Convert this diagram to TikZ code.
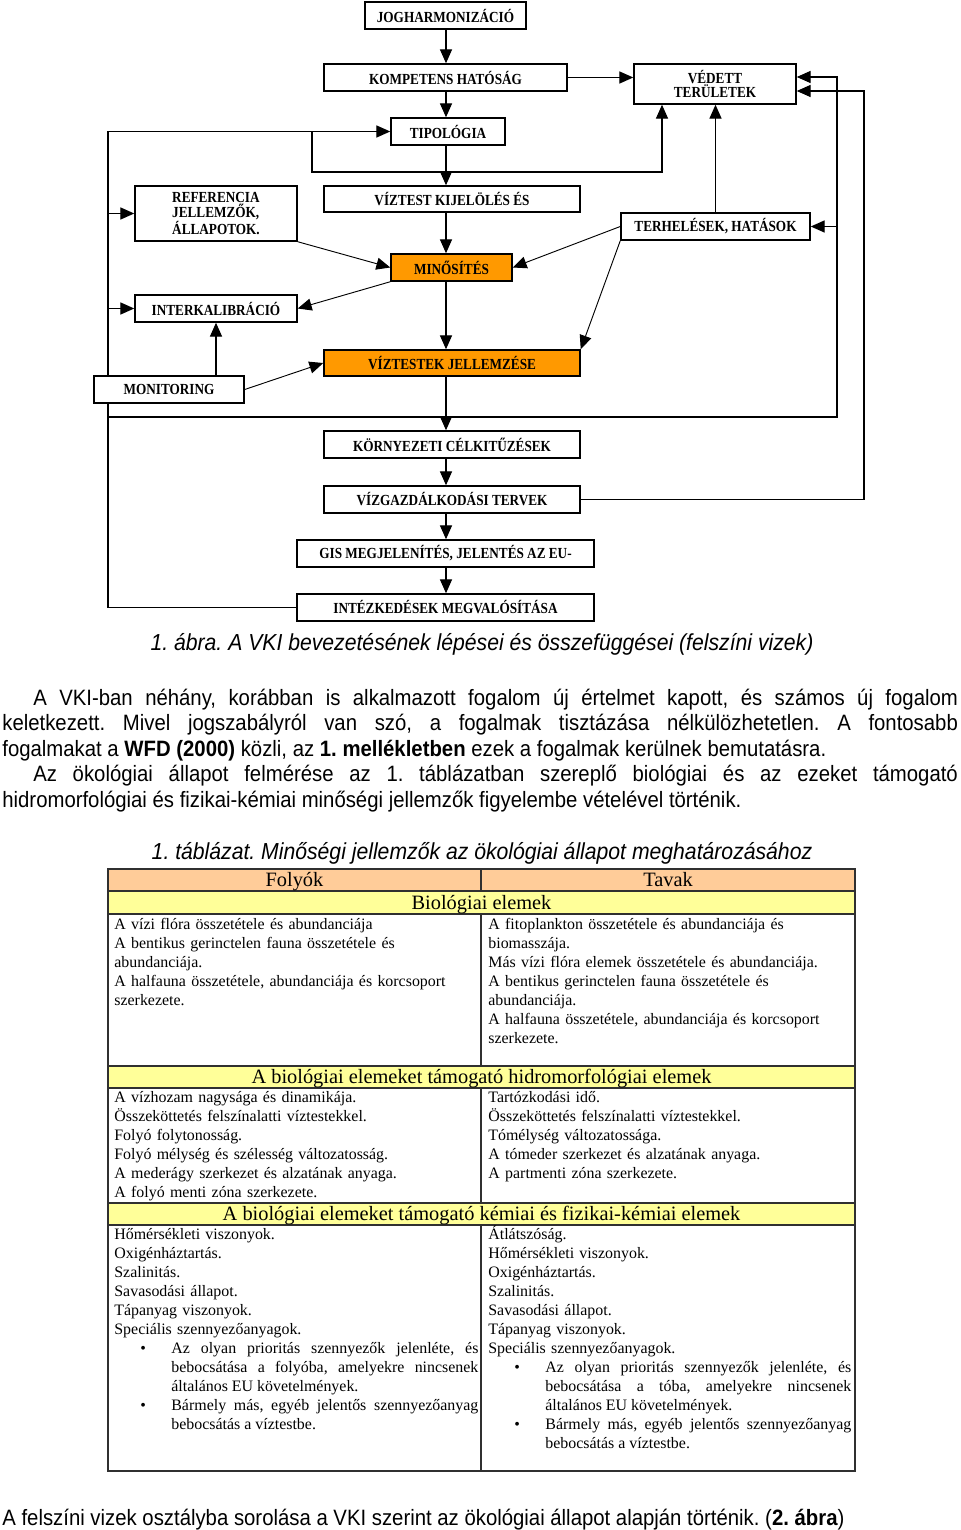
\documentclass[tikz,border=0pt]{standalone}
\usepackage{fontspec}
\setmainfont{Liberation Sans}[FakeStretch=0.915]
\newfontfamily\flowfont{Liberation Serif}[FakeStretch=0.86]
\newfontfamily\tabfont{Liberation Serif}
\usepackage{tikz}
\usetikzlibrary{arrows.meta,calc,backgrounds}
\definecolor{StepOrange}{HTML}{FF9900}
\definecolor{HeadPeach}{HTML}{FFCC99}
\definecolor{BandYellow}{HTML}{FFFF99}
\definecolor{RuleGray}{HTML}{303030}
\frenchspacing
\tikzset{
	flowbox/.style={draw=black, line width=0.8pt, fill=white, inner sep=0pt, align=center, font=\flowfont\bfseries\fontsize{8.3}{7.9}\selectfont},
	hotbox/.style={flowbox, fill=StepOrange},
	link/.style={line width=0.65pt, -{Triangle[length=7.5pt,width=6.5pt]}},
	slant/.style={line width=0.5pt, -{Triangle[length=7.5pt,width=6.5pt]}},
	tabrule/.style={draw=RuleGray, line width=0.6pt},
	celltext/.style={inner sep=0pt, anchor=base west, text width=196pt, align=left, font=\tabfont\fontsize{8.6}{10.26}\selectfont},
	bullettext/.style={celltext, text width=#1, align=justify},
	headtext/.style={inner sep=0pt, anchor=base, font=\tabfont\fontsize{11}{12}\selectfont},
	bodytext/.style={inner sep=0pt, anchor=base west, text width=516pt, align=justify, font=\fontsize{12}{13.8}\selectfont},
	captext/.style={inner sep=0pt, anchor=base, font=\itshape\fontsize{12.5}{13.8}\selectfont},
}
\newcommand{\vkibox}[6]{%
	\node[#2, minimum width=#4*0.54pt, minimum height=#5*0.54pt] (#1) at (#3) {#6};
}

\begin{document}
\begin{tikzpicture}[x=0.54pt,y=-0.54pt]
	\useasboundingbox (0,0) rectangle (960,1530);

	\vkibox{jogh}{flowbox}{445.5,15.5}{161}{27}{JOGHARMONIZÁCIÓ}
	\vkibox{komp}{flowbox}{445.5,77.5}{243}{27}{KOMPETENS HATÓSÁG}
	\vkibox{vedett}{flowbox}{715,84}{162}{40}{VÉDETT\\TERÜLETEK}
	\vkibox{tipo}{flowbox}{448,131.5}{114}{27}{TIPOLÓGIA}
	\vkibox{refer}{flowbox, align=left}{216,213.5}{162}{55}{REFERENCIA\\JELLEMZŐK,\\ÁLLAPOTOK.}
	\vkibox{kijel}{flowbox}{452,199}{256}{26}{VÍZTEST KIJELÖLÉS ÉS}
	\vkibox{terh}{flowbox}{715.5,226.5}{189}{27}{TERHELÉSEK, HATÁSOK}
	\vkibox{minos}{hotbox}{451.5,267.5}{121}{27}{MINŐSÍTÉS}
	\vkibox{interk}{flowbox}{216,308.5}{162}{27}{INTERKALIBRÁCIÓ}
	\vkibox{monit}{flowbox}{169,389.5}{150}{27}{MONITORING}
	\vkibox{jellem}{hotbox}{452,363}{256}{26}{VÍZTESTEK JELLEMZÉSE}
	\vkibox{celok}{flowbox}{452,444.5}{256}{27}{KÖRNYEZETI CÉLKITŰZÉSEK}
	\vkibox{tervek}{flowbox}{452,499.5}{256}{27}{VÍZGAZDÁLKODÁSI TERVEK}
	\vkibox{gisjel}{flowbox}{445.5,553.5}{297}{27}{GIS MEGJELENÍTÉS, JELENTÉS AZ EU-}
	\vkibox{intez}{flowbox}{445.5,607.5}{297}{27}{INTÉZKEDÉSEK MEGVALÓSÍTÁSA}

	\coordinate (spine) at (446,0);
	\coordinate (lbus) at (108,0);
	\coordinate (tknee) at (312,0);
	\coordinate (vfoot) at (662,172);
	\coordinate (rbus) at (837,417);
	\coordinate (obus) at (864,0);

	\begin{pgfonlayer}{background}
		\fill[white] (0,0) rectangle (960,1530);
		\foreach \from/\to in {jogh/komp,komp/tipo,tipo/kijel,kijel/minos,minos/jellem,jellem/celok,celok/tervek,tervek/gisjel,gisjel/intez} {
			\draw[link] (\from.south -| spine) -- (\to.north -| spine);
		}
		\draw[link] (komp.east) -- (komp.east -| vedett.west);
		\draw[link] (intez.west) -| (lbus |- tipo.west) -- (tipo.west);
		\draw[link] (lbus |- refer.west) -- (refer.west);
		\draw[link] (lbus |- interk.west) -- (interk.west);
		\draw[link] (tknee |- tipo.west) |- (vfoot) -- (vfoot |- vedett.south);
		\draw[link] (lbus |- rbus) -- (rbus) |- ($(vedett.east)+(0,-7)$);
		\draw[link] (rbus |- terh.east) -- (terh.east);
		\draw[link] (tervek.east) -- (tervek.east -| obus) |- ($(vedett.east)+(0,7)$);
		\draw[link] (terh.north) -- (terh.north |- vedett.south);
		\draw[link] (interk.south |- monit.north) -- (interk.south);
		\draw[slant] (refer.south east) -- (minos.west);
		\draw[slant] (minos.south west) -- (interk.east);
		\draw[slant] (monit.east) -- (jellem.west);
		\draw[slant] (terh.west) -- (minos.east);
		\draw[slant] (terh.south west) -- (jellem.north east);
	\end{pgfonlayer}

	\node[captext] (figcap) at (482,650) {1. ábra. A VKI bevezetésének lépései és összefüggései (felszíni vizek)};
	\node[bodytext] (para) at (2,705) {\hspace*{16.7pt}A VKI-ban néhány, korábban is alkalmazott fogalom új értelmet kapott, és számos új fogalom\linebreak keletkezett. Mivel jogszabályról van szó, a fogalmak tisztázása nélkülözhetetlen. A fontosabb\linebreak fogalmakat a \textbf{WFD (2000)} közli, az \textbf{1. mellékletben} ezek a fogalmak kerülnek bemutatásra.\par
		\hspace*{16.7pt}Az ökológiai állapot felmérése az 1. táblázatban szereplő biológiai és az ezeket támogató\linebreak hidromorfológiai és fizikai-kémiai minőségi jellemzők figyelembe vételével történik.};
	\node[captext] (tabcap) at (482,859) {1. táblázat. Minőségi jellemzők az ökológiai állapot meghatározásához};

	\fill[HeadPeach] (108,869) rectangle (855,891);
	\fill[BandYellow] (108,891) rectangle (855,914);
	\fill[BandYellow] (108,1066) rectangle (855,1088);
	\fill[BandYellow] (108,1203) rectangle (855,1225);
	\draw[tabrule] (108,869) rectangle (855,1471);
	\foreach \yy in {891,914,1066,1088,1203,1225} {
		\draw[tabrule] (108,\yy) -- (855,\yy);
	}
	\foreach \ya/\yb in {869/891,914/1066,1088/1203,1225/1471} {
		\draw[tabrule] (481,\ya) -- (481,\yb);
	}

	\node[headtext] (hdriver) at (294.5,886) {Folyók};
	\node[headtext] (hdlake) at (668,886) {Tavak};
	\node[headtext] (bandbio) at (481.5,909) {Biológiai elemek};
	\node[headtext] (bandhydro) at (481.5,1083) {A biológiai elemeket támogató hidromorfológiai elemek};
	\node[headtext] (bandchem) at (481.5,1220) {A biológiai elemeket támogató kémiai és fizikai-kémiai elemek};

	\node[celltext] (bioL) at (114,929) {A vízi flóra összetétele és abundanciája\\A bentikus gerinctelen fauna összetétele és\\abundanciája.\\A halfauna összetétele, abundanciája és korcsoport\\szerkezete.};
	\node[celltext] (bioR) at (488,929) {A fitoplankton összetétele és abundanciája és\\biomasszája.\\Más vízi flóra elemek összetétele és abundanciája.\\A bentikus gerinctelen fauna összetétele és\\abundanciája.\\A halfauna összetétele, abundanciája és korcsoport\\szerkezete.};
	\node[celltext] (hydroL) at (114,1102) {A vízhozam nagysága és dinamikája.\\Összeköttetés felszínalatti víztestekkel.\\Folyó folytonosság.\\Folyó mélység és szélesség változatosság.\\A mederágy szerkezet és alzatának anyaga.\\A folyó menti zóna szerkezete.};
	\node[celltext] (hydroR) at (488,1102) {Tartózkodási idő.\\Összeköttetés felszínalatti víztestekkel.\\Tómélység változatossága.\\A tómeder szerkezet és alzatának anyaga.\\A partmenti zóna szerkezete.};
	\node[celltext] (chemL) at (114,1239) {Hőmérsékleti viszonyok.\\Oxigénháztartás.\\Szalinitás.\\Savasodási állapot.\\Tápanyag viszonyok.\\Speciális szennyezőanyagok.};
	\node[celltext] (chemR) at (488,1239) {Átlátszóság.\\Hőmérsékleti viszonyok.\\Oxigénháztartás.\\Szalinitás.\\Savasodási állapot.\\Tápanyag viszonyok.\\Speciális szennyezőanyagok.};

	\foreach \bx/\by in {140/1353,140/1410,514/1372,514/1429} {
		\node[celltext, text width=10pt] at (\bx,\by) {\textbullet};
	}
	\node[bullettext=165.8pt] (chemLa) at (171,1353) {Az olyan prioritás szennyezők jelenléte, és\linebreak bebocsátása a folyóba, amelyekre nincsenek\linebreak általános EU követelmények.};
	\node[bullettext=165.8pt] (chemLb) at (171,1410) {Bármely más, egyéb jelentős szennyezőanyag\linebreak bebocsátás a víztestbe.};
	\node[bullettext=165.2pt] (chemRa) at (545,1372) {Az olyan prioritás szennyezők jelenléte, és\linebreak bebocsátása a tóba, amelyekre nincsenek\linebreak általános EU követelmények.};
	\node[bullettext=165.2pt] (chemRb) at (545,1429) {Bármely más, egyéb jelentős szennyezőanyag\linebreak bebocsátás a víztestbe.};

	\node[inner sep=0pt, anchor=base west, font=\fontsize{12}{13.8}\selectfont] (closing) at (2,1525) {A felszíni vizek osztályba sorolása a VKI szerint az ökológiai állapot alapján történik. (\textbf{2. ábra})};
\end{tikzpicture}
\end{document}
